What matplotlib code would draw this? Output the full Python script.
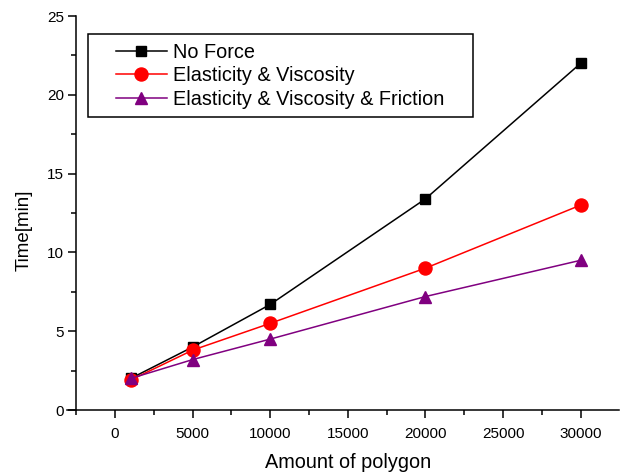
import matplotlib
matplotlib.use("Agg")
import matplotlib.pyplot as plt
from matplotlib.patches import Rectangle
from matplotlib.ticker import MultipleLocator

plt.rcParams["font.family"] = ["Liberation Sans", "DejaVu Sans"]

# data
polygons = [1000, 5000, 10000, 20000, 30000]
no_force = [2.0, 4.0, 6.7, 13.4, 22.0]
elastic_visc = [1.9, 3.8, 5.5, 9.0, 13.0]
elastic_visc_fric = [2.0, 3.2, 4.5, 7.2, 9.5]
labels = ["No Force", "Elasticity & Viscosity", "Elasticity & Viscosity & Friction"]

W, H = 624, 474
fig = plt.figure(figsize=(W / 100, H / 100), dpi=100)
ax = fig.add_axes([67 / W, 1 - 410 / H, (619 - 67) / W, (410 - 16) / H])

ax.plot(polygons, no_force, color="black", lw=1.1, marker="s", ms=6.8, label=labels[0])
ax.plot(polygons, elastic_visc, color="red", lw=1.1, marker="o", ms=9.4, label=labels[1])
ax.plot(polygons, elastic_visc_fric, color="#800080", lw=1.1, marker="^", ms=9.0, label=labels[2])

ax.set_xlim(-3100, 32470)
ax.set_ylim(0, 25)
ax.spines["top"].set_visible(False)
ax.spines["right"].set_visible(False)
ax.spines["left"].set_position(("data", -2500))
for s in ("left", "bottom"):
    ax.spines[s].set_linewidth(1.1)

ax.xaxis.set_major_locator(MultipleLocator(5000))
ax.xaxis.set_minor_locator(MultipleLocator(2500))
ax.yaxis.set_major_locator(MultipleLocator(5))
ax.yaxis.set_minor_locator(MultipleLocator(2.5))
ax.set_xticks([0, 5000, 10000, 15000, 20000, 25000, 30000])
ax.tick_params(which="major", length=6, width=1.1, labelsize=11)
ax.tick_params(which="minor", length=3.5, width=1.1)
ax.tick_params(axis="x", which="major", pad=6)
ax.tick_params(axis="y", which="major", pad=3)

fig.text(24 / W, 1 - 230 / H, "Time[min]", rotation=90, ha="center", va="center", fontsize=13.5)
fig.text(348 / W, 1 - 462 / H, "Amount of polygon", ha="center", va="center", fontsize=14.3)

# legend box drawn separately so the padding matches
fig.patches.append(Rectangle((88 / W, 1 - 117 / H), (473 - 88) / W, (117 - 34) / H,
                             transform=fig.transFigure, fill=False, ec="black", lw=1.1))
ax.legend(loc="upper left", bbox_to_anchor=(116 / W, 1 - 43 / H), bbox_transform=fig.transFigure,
          frameon=False, fontsize=14.3, handlelength=2.55, handletextpad=0.3,
          labelspacing=0.22, borderpad=0, borderaxespad=0)

fig.savefig("out.png", dpi=100)
